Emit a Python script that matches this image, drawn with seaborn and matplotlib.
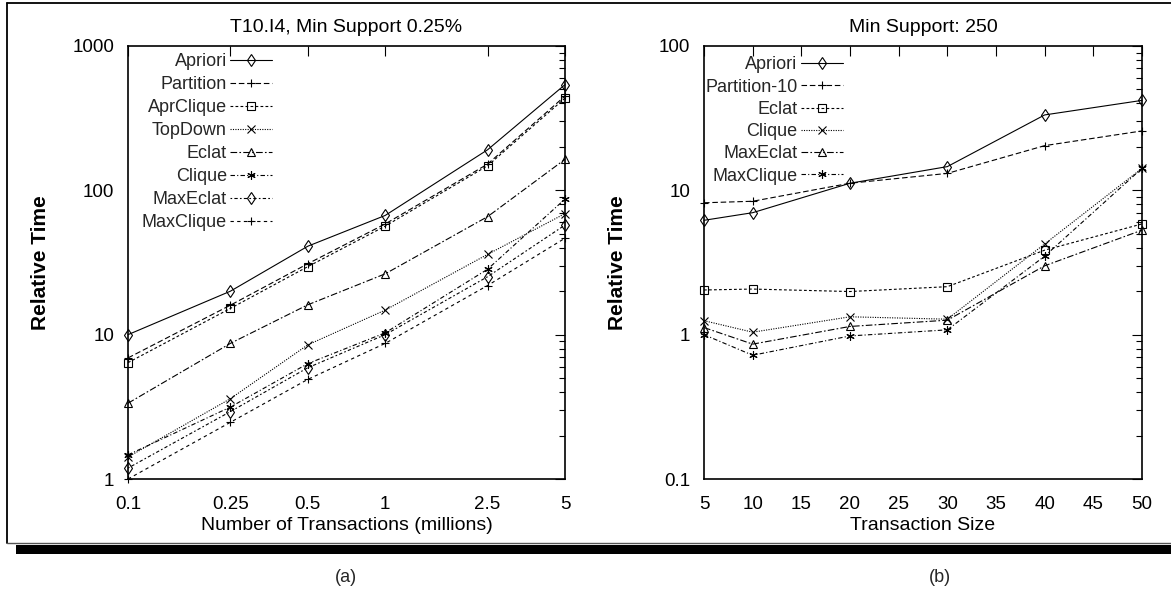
import matplotlib
matplotlib.use("Agg")
import matplotlib.pyplot as plt
import matplotlib.ticker as mticker
from matplotlib import font_manager as fm
from matplotlib.patches import Rectangle
from matplotlib.lines import Line2D
from matplotlib.legend_handler import HandlerLine2D
import numpy as np
import seaborn as sns
import pandas as pd

# ---------------- data ----------------
x_left = [0.1, 0.25, 0.5, 1, 2.5, 5]
left_names = ["Apriori", "Partition", "AprClique", "TopDown", "Eclat", "Clique", "MaxEclat", "MaxClique"]
apriori_a = [10, 20, 41, 67, 191, 540]
partition_a = [6.9, 16, 31, 58.5, 152, 450]
aprclique_a = [6.4, 15.2, 29.6, 56.5, 148, 435]
topdown_a = [1.42, 3.6, 8.5, 14.8, 36, 69]
eclat_a = [3.35, 8.7, 16.1, 26.4, 65.7, 164]
clique_a = [1.47, 3.15, 6.3, 10.3, 28.4, 87]
maxeclat_a = [1.19, 2.93, 5.9, 10, 25.2, 57.5]
maxclique_a = [1.0, 2.47, 4.9, 8.7, 21.9, 46.6]
left_values = [apriori_a, partition_a, aprclique_a, topdown_a, eclat_a, clique_a, maxeclat_a, maxclique_a]
left_xticks = [0.1, 0.25, 0.5, 1, 2.5, 5]
left_xticklabels = ["0.1", "0.25", "0.5", "1", "2.5", "5"]
left_yticks = [1, 10, 100, 1000]
left_yticklabels = ["1", "10", "100", "1000"]

x_right = [5, 10, 20, 30, 40, 50]
right_names = ["Apriori", "Partition-10", "Eclat", "Clique", "MaxEclat", "MaxClique"]
apriori_b = [6.2, 7.0, 11.2, 14.6, 33.3, 42]
partition_b = [8.2, 8.4, 11.2, 13.1, 20.4, 25.8]
eclat_b = [2.04, 2.07, 1.99, 2.15, 3.85, 5.85]
clique_b = [1.25, 1.04, 1.33, 1.28, 4.25, 14.2]
maxeclat_b = [1.12, 0.86, 1.14, 1.26, 3.0, 5.3]
maxclique_b = [1.0, 0.72, 0.98, 1.08, 3.5, 14.2]
right_values = [apriori_b, partition_b, eclat_b, clique_b, maxeclat_b, maxclique_b]
right_xticks = [5, 10, 15, 20, 25, 30, 35, 40, 45, 50]
right_yticks = [0.1, 1, 10, 100]
right_yticklabels = ["0.1", "1", "10", "100"]

# ---------------- styles ----------------
STAR = (6, 2, 0)
left_styles = [
    dict(marker="d", linestyle="-"),
    dict(marker="+", linestyle=(0, (5, 2.5))),
    dict(marker="s", linestyle=(0, (2.5, 2))),
    dict(marker="x", linestyle=(0, (1, 1.2))),
    dict(marker="^", linestyle=(0, (6, 2, 1.5, 2))),
    dict(marker=STAR, linestyle=(0, (4, 2, 1, 2))),
    dict(marker="d", linestyle=(0, (1.5, 2, 3, 2))),
    dict(marker="+", linestyle=(0, (3, 3))),
]
right_styles = [
    dict(marker="d", linestyle="-"),
    dict(marker="+", linestyle=(0, (5, 2.5))),
    dict(marker="s", linestyle=(0, (2.5, 2))),
    dict(marker="x", linestyle=(0, (1, 1.2))),
    dict(marker="^", linestyle=(0, (6, 2, 1.5, 2))),
    dict(marker=STAR, linestyle=(0, (4, 2, 1, 2))),
]

sns.set_theme(style="white")
names = {f.name for f in fm.fontManager.ttflist}
NARROW = "Liberation Sans Narrow" if "Liberation Sans Narrow" in names else "Liberation Sans"
plt.rcParams["font.family"] = [NARROW, "DejaVu Sans"]
plt.rcParams["axes.edgecolor"] = "black"
plt.rcParams["axes.linewidth"] = 1.2

W, H = 1171, 592
fig = plt.figure(figsize=(W / 100, H / 100), dpi=100)
fig.patch.set_facecolor("white")


def fx(px):
    return px / W


def fy(py):
    return 1 - py / H


ax1 = fig.add_axes([fx(128), fy(479), fx(565) - fx(128), fy(46) - fy(479)])
ax2 = fig.add_axes([fx(704), fy(479), fx(1142) - fx(704), fy(46) - fy(479)])


def draw(ax, xs, names_, values, styles):
    for name, vals, st in zip(names_, values, styles):
        df = pd.DataFrame({"x": xs, "y": vals})
        mk = st["marker"]
        hollow = mk in ("d", "s", "^")
        sns.lineplot(data=df, x="x", y="y", ax=ax, color="black", linewidth=0.8,
                     linestyle=st["linestyle"], marker=mk,
                     markersize=6 if mk != "s" else 5.5,
                     markerfacecolor="none" if hollow else "black",
                     markeredgecolor="black", markeredgewidth=0.8,
                     label=name, clip_on=False, errorbar=None)


draw(ax1, x_left, left_names, left_values, left_styles)
draw(ax2, x_right, right_names, right_values, right_styles)

TICK_FS = 13.5
for ax in (ax1, ax2):
    ax.set_yscale("log")
    ax.tick_params(which="both", direction="in", top=True, right=True, colors="black",
                   labelsize=TICK_FS, width=0.8)
    ax.tick_params(which="major", length=7)
    ax.tick_params(which="minor", length=4)
    ax.tick_params(axis="x", pad=12)
    ax.tick_params(axis="y", pad=10)
    for s in ax.spines.values():
        s.set_color("black")
        s.set_linewidth(1.2)

ax1.set_xscale("log")
ax1.set_xlim(0.1, 5)
ax1.set_ylim(1, 1000)
ax1.xaxis.set_major_locator(mticker.FixedLocator(left_xticks))
ax1.xaxis.set_major_formatter(mticker.FixedFormatter(left_xticklabels))
ax1.xaxis.set_minor_locator(mticker.NullLocator())
ax1.yaxis.set_major_locator(mticker.FixedLocator(left_yticks))
ax1.yaxis.set_major_formatter(mticker.FixedFormatter(left_yticklabels))
ax1.yaxis.set_minor_locator(mticker.LogLocator(base=10, subs=range(2, 10)))
ax1.yaxis.set_minor_formatter(mticker.NullFormatter())

ax2.set_xlim(5, 50)
ax2.set_ylim(0.1, 100)
ax2.xaxis.set_major_locator(mticker.FixedLocator(right_xticks))
ax2.xaxis.set_major_formatter(mticker.FixedFormatter([str(v) for v in right_xticks]))
ax2.xaxis.set_minor_locator(mticker.NullLocator())
ax2.yaxis.set_major_locator(mticker.FixedLocator(right_yticks))
ax2.yaxis.set_major_formatter(mticker.FixedFormatter(right_yticklabels))
ax2.yaxis.set_minor_locator(mticker.LogLocator(base=10, subs=range(2, 10)))
ax2.yaxis.set_minor_formatter(mticker.NullFormatter())

ax1.set_title("T10.I4, Min Support 0.25%", fontsize=14, pad=10, color="black")
ax2.set_title("Min Support: 250", fontsize=14, pad=10, color="black")
ax1.set_xlabel("Number of Transactions (millions)", fontsize=14, labelpad=3, color="black")
ax2.set_xlabel("Transaction Size", fontsize=14, labelpad=3, color="black")
for ax, lp in ((ax1, 16), (ax2, 23)):
    ax.set_ylabel("Relative Time", fontsize=15, fontweight="bold",
                  family=["Liberation Sans", "DejaVu Sans"], labelpad=lp, color="black")


class QuarterMarkerHandler(HandlerLine2D):
    def get_xdata(self, legend, xdescent, ydescent, width, height, fontsize):
        xdata = np.array([-xdescent, -xdescent + width], float)
        xmark = np.array([-xdescent + 0.22 * width])
        return xdata, xmark


for ax, anchor, sp in ((ax1, (0.3295, 0.983), 0.33), (ax2, (0.317, 0.976), 0.29)):
    h, l = ax.get_legend_handles_labels()
    ax.legend(h, l, loc="upper right", bbox_to_anchor=anchor, markerfirst=False,
              frameon=False, fontsize=13, handlelength=2.3, handletextpad=0.2,
              labelspacing=sp, borderpad=0, borderaxespad=0,
              handler_map={Line2D: QuarterMarkerHandler()})

# outer frame with shadow
fig.add_artist(Line2D([fx(7), 1], [fy(3), fy(3)], color="black", lw=1.3, transform=fig.transFigure))
fig.add_artist(Line2D([fx(7), fx(7)], [fy(3), fy(543)], color="black", lw=1.3, transform=fig.transFigure))
fig.add_artist(Line2D([fx(7), 1], [fy(543), fy(543)], color="#555555", lw=1.0, transform=fig.transFigure))
fig.add_artist(Rectangle((fx(16), fy(554)), 1 - fx(16), fy(545) - fy(554), facecolor="black",
                         edgecolor="none", transform=fig.transFigure))

fig.text(fx(346), fy(578), "(a)", ha="center", va="center", fontsize=13,
         family=["Liberation Sans", "DejaVu Sans"])
fig.text(fx(940), fy(578), "(b)", ha="center", va="center", fontsize=13,
         family=["Liberation Sans", "DejaVu Sans"])

fig.savefig("out.png", dpi=100, facecolor="white")
